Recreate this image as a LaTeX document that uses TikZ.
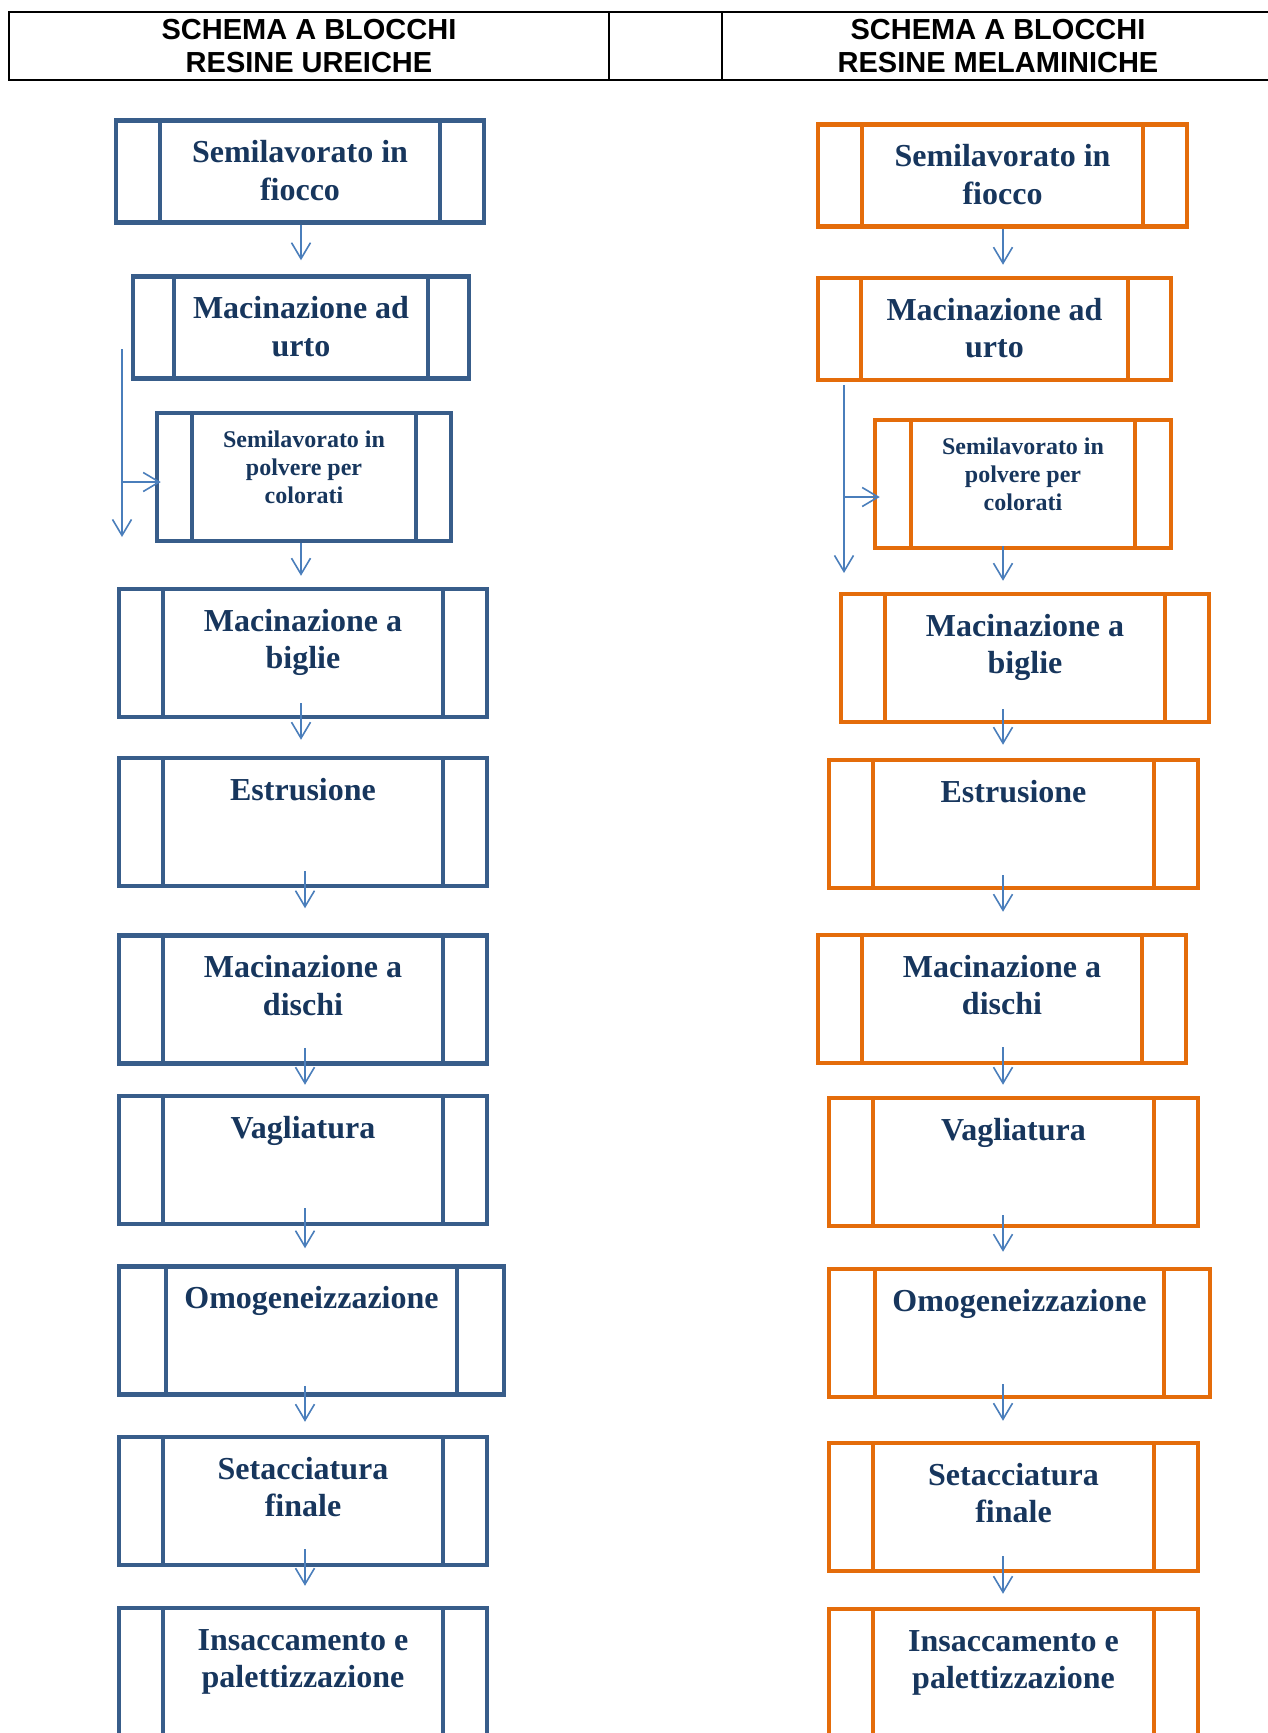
\documentclass[tikz,border=0pt]{standalone}
\usepackage{fontspec}
\setmainfont{Liberation Serif}
\newfontfamily\headfont{Liberation Sans}
\usetikzlibrary{arrows.meta}

\definecolor{ureablue}{RGB}{56,93,138}
\definecolor{melorange}{RGB}{228,108,10}
\definecolor{arrowblue}{RGB}{74,126,187}
\definecolor{navytext}{RGB}{23,54,93}

\tikzset{
  barsep/.store in=\barsep, barsep=44pt,
  blk/.style={draw=#1, line width=4.5pt, inner sep=0pt, minimum width=368pt,
    align=center, text=navytext, font=\fontsize{32pt}{37.5pt}\selectfont\bfseries,
    text height=42pt, text depth=86pt,
    path picture={
      \draw[#1, line width=4.5pt] ([xshift=\barsep]path picture bounding box.north west) -- ([xshift=\barsep]path picture bounding box.south west);
      \draw[#1, line width=4.5pt] ([xshift=-\barsep]path picture bounding box.north east) -- ([xshift=-\barsep]path picture bounding box.south east);
    }},
  two/.style={text height=79.5pt, text depth=48.5pt},
  low/.style={text height=79.5pt, text depth=22.5pt},
  small/.style={font=\fontsize{24pt}{28pt}\selectfont\bfseries, text height=90pt, text depth=38pt},
  arr/.style={draw=arrowblue, line width=1.6pt, -{Straight Barb[length=16pt, width=19pt]}},
  head/.style={draw, line width=2.2pt, inner sep=0pt, align=center,
    font=\headfont\fontsize{29pt}{33pt}\selectfont\bfseries, text height=60pt, text depth=8pt}
}

\begin{document}
\begin{tikzpicture}[x=1pt, y=-1pt]
  \useasboundingbox (0,0) rectangle (1267,1733);

  \node[head, minimum width=600pt] (h1) at (309,46) {SCHEMA A BLOCCHI\\RESINE UREICHE};
  \node[head, minimum width=113pt] (h2) at (665.5,46) {};
  \node[head, minimum width=552pt] (h3) at (998,46) {SCHEMA A BLOCCHI\\RESINE MELAMINICHE};

  % resine ureiche
  \node[blk=ureablue, low] (u1) at (300,171.5) {Semilavorato in\\fiocco};
  \node[blk=ureablue, low, minimum width=336pt, barsep=41pt] (u2) at (301,327.5) {Macinazione ad\\urto};
  \node[blk=ureablue, small, minimum width=294pt, barsep=35pt] (u3) at (304,477) {Semilavorato in\\polvere per\\colorati};
  \node[blk=ureablue, two] (u4) at (303,653) {Macinazione a\\biglie};
  \node[blk=ureablue] (u5) at (303,822) {Estrusione};
  \node[blk=ureablue, two] (u6) at (303,999.5) {Macinazione a\\dischi};
  \node[blk=ureablue] (u7) at (303,1160) {Vagliatura};
  \node[blk=ureablue, minimum width=385pt, barsep=47pt] (u8) at (311.5,1330.5) {Omogeneizzazione};
  \node[blk=ureablue, two] (u9) at (303,1501) {Setacciatura\\finale};
  \node[blk=ureablue, two] (u10) at (303,1672) {Insaccamento e\\palettizzazione};

  % resine melaminiche
  \node[blk=melorange, low, minimum width=369pt] (m1) at (1002.5,175.5) {Semilavorato in\\fiocco};
  \node[blk=melorange, low, minimum width=353pt, barsep=43pt] (m2) at (994.5,329) {Macinazione ad\\urto};
  \node[blk=melorange, small, minimum width=296pt, barsep=36pt] (m3) at (1023,484) {Semilavorato in\\polvere per\\colorati};
  \node[blk=melorange, two] (m4) at (1025,658) {Macinazione a\\biglie};
  \node[blk=melorange, minimum width=369pt] (m5) at (1013.5,824) {Estrusione};
  \node[blk=melorange, two] (m6) at (1002,999) {Macinazione a\\dischi};
  \node[blk=melorange, minimum width=369pt] (m7) at (1013.5,1162) {Vagliatura};
  \node[blk=melorange, minimum width=381pt, barsep=46pt] (m8) at (1019.5,1333) {Omogeneizzazione};
  \node[blk=melorange, two, minimum width=369pt] (m9) at (1013.5,1507) {Setacciatura\\finale};
  \node[blk=melorange, two, minimum width=369pt] (m10) at (1013.5,1673) {Insaccamento e\\palettizzazione};

  \coordinate (colL) at (301,0);
  \coordinate (colLb) at (305,0);
  \coordinate (colR) at (1003,0);
  \coordinate (sideL) at (122,349);
  \coordinate (sideLend) at (122,537);
  \coordinate (sideR) at (844,385);
  \coordinate (sideRend) at (844,573);

  \draw[arr] (u1.south -| colL) -- ([yshift=14]u2.north -| colL);
  \draw[arr] (u3.south -| colL) -- ([yshift=11]u4.north -| colL);
  \draw[arr] ([yshift=16]u4.south -| colL) -- ([yshift=16]u5.north -| colL);
  \draw[arr] ([yshift=17]u5.south -| colLb) -- ([yshift=25]u6.north -| colLb);
  \draw[arr] ([yshift=18]u6.south -| colLb) -- ([yshift=9]u7.north -| colLb);
  \draw[arr] ([yshift=18]u7.south -| colLb) -- ([yshift=16]u8.north -| colLb);
  \draw[arr] ([yshift=11]u8.south -| colLb) -- ([yshift=13]u9.north -| colLb);
  \draw[arr] ([yshift=18]u9.south -| colLb) -- ([yshift=20]u10.north -| colLb);
  \draw[arr] (sideL) -- (sideLend);
  \draw[arr] ([yshift=-5]u3.west -| sideL) -- ([xshift=6,yshift=-5]u3.west);

  \draw[arr] (m1.south -| colR) -- ([yshift=11]m2.north -| colR);
  \draw[arr] ([yshift=4]m3.south -| colR) -- ([yshift=11]m4.north -| colR);
  \draw[arr] ([yshift=15]m4.south -| colR) -- ([yshift=13]m5.north -| colR);
  \draw[arr] ([yshift=15]m5.south -| colR) -- ([yshift=21]m6.north -| colR);
  \draw[arr] ([yshift=18]m6.south -| colR) -- ([yshift=11]m7.north -| colR);
  \draw[arr] ([yshift=13]m7.south -| colR) -- ([yshift=15]m8.north -| colR);
  \draw[arr] ([yshift=15]m8.south -| colR) -- ([yshift=20]m9.north -| colR);
  \draw[arr] ([yshift=17]m9.south -| colR) -- ([yshift=13]m10.north -| colR);
  \draw[arr] (sideR) -- (sideRend);
  \draw[arr] ([yshift=-13]m3.west -| sideR) -- ([xshift=7,yshift=-13]m3.west);
\end{tikzpicture}
\end{document}
